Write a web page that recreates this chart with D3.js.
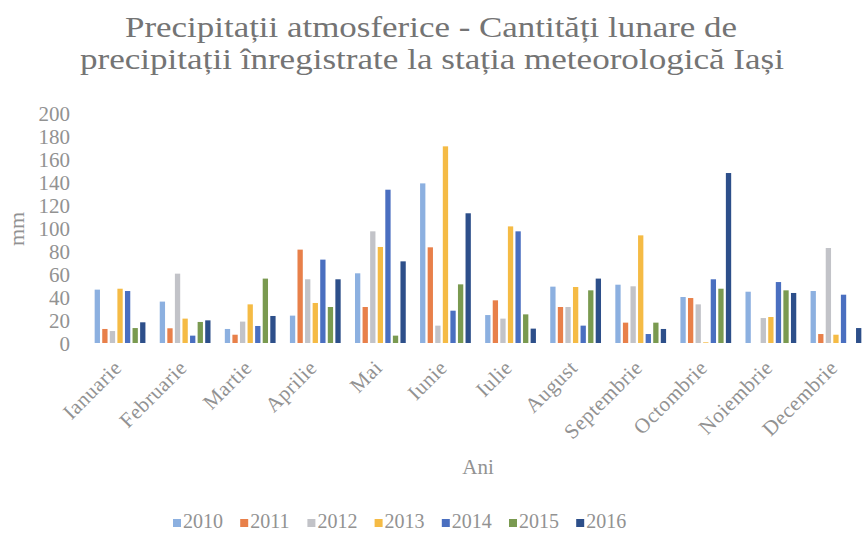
<!DOCTYPE html>
<html><head><meta charset="utf-8">
<script src="https://cdn.jsdelivr.net/npm/d3@7"></script>
<style>body{margin:0;background:#fff}svg{display:block}</style>
</head><body>
<svg id="c" width="862" height="537"></svg>
<script>
const months = ["Ianuarie","Februarie","Martie","Aprilie","Mai","Iunie","Iulie","August","Septembrie","Octombrie","Noiembrie","Decembrie"];
const years = ["2010","2011","2012","2013","2014","2015","2016"];
const colors = ["#8cb0e0","#e8804a","#c2c3c8","#f5bb45","#4a6fc0","#7a9a50","#2d4f8a"];
const v2010 = [46.4, 36, 12.2, 23.8, 60.6, 138.8, 24.3, 49, 50.7, 40, 44.6, 45.2];
const v2011 = [12.2, 12.8, 7.2, 81.2, 31.3, 83.2, 37.1, 31.3, 17.7, 39.1, 0, 7.8];
const v2012 = [10.4, 60.3, 18.6, 55.4, 97.1, 15.1, 21.2, 31.3, 49.3, 33.6, 21.7, 82.6];
const v2013 = [47.2, 21.2, 33.6, 34.8, 83.5, 171, 101.4, 48.7, 93.6, 0.6, 22.6, 7.2];
const v2014 = [45.2, 6.4, 14.8, 72.5, 133.3, 28.1, 97.1, 15.1, 7.8, 55.4, 53, 42];
const v2015 = [13, 18.3, 56, 31.3, 6.4, 51, 24.9, 45.8, 17.7, 47.2, 45.8, 0];
const v2016 = [18, 19.7, 23.5, 55.4, 71, 112.8, 12.5, 56, 12.2, 147.8, 43.5, 13];
const series = [v2010, v2011, v2012, v2013, v2014, v2015, v2016];
const yTicks = [0,20,40,60,80,100,120,140,160,180,200];
const title1 = "Precipitații atmosferice - Cantități lunare de";
const title2 = "precipitații înregistrate la stația meteorologică Iași";

const svg = d3.select("#c");
const font = "'Liberation Serif','Times New Roman',serif";
const gray = "#929292";

const x = d3.scaleBand().domain(months).range([87.5, 868.5]).paddingInner(0.22).paddingOuter(0.11);
const xs = d3.scaleBand().domain(years).range([0, x.bandwidth()]).paddingInner(0.3);
const y = d3.scaleLinear().domain([0, 200]).range([343, 113]);

// title
svg.append("text").attr("x", 431).attr("y", 37).attr("text-anchor","middle")
  .attr("font-family", font).attr("font-size", 30).attr("fill","#747474")
  .attr("textLength", 612).attr("lengthAdjust","spacingAndGlyphs").text(title1);
svg.append("text").attr("x", 432).attr("y", 69).attr("text-anchor","middle")
  .attr("font-family", font).attr("font-size", 30).attr("fill","#747474")
  .attr("textLength", 704).attr("lengthAdjust","spacingAndGlyphs").text(title2);

// y axis
const ya = svg.append("g").attr("transform","translate(70,0)")
  .call(d3.axisLeft(y).tickValues(yTicks).tickSize(0).tickPadding(0));
ya.select(".domain").remove();
ya.selectAll("text").attr("font-family", font).attr("font-size", 21).attr("fill", gray).attr("dy","0.34em");

// bars
const g = svg.append("g");
years.forEach((yr, si) => {
  g.selectAll(null).data(months).enter().append("rect")
    .attr("x", m => x(m) + xs(yr))
    .attr("y", (m, i) => y(series[si][i]))
    .attr("width", xs.bandwidth())
    .attr("height", (m, i) => y(0) - y(series[si][i]))
    .attr("fill", colors[si]);
});

// x axis
const xa = svg.append("g").attr("transform","translate(0,343)")
  .call(d3.axisBottom(x).tickSize(0).tickPadding(0));
xa.select(".domain").remove();
xa.selectAll("text")
  .attr("font-family", font).attr("font-size", 21).attr("fill", gray)
  .attr("letter-spacing", 0.5)
  .attr("text-anchor","end").attr("y", 0).attr("dy", null)
  .attr("transform","translate(3,26) rotate(-45)");

// axis titles
svg.append("text").attr("transform","translate(24,229) rotate(-90)").attr("text-anchor","middle")
  .attr("font-family", font).attr("font-size", 22).attr("fill", gray).text("mm");
svg.append("text").attr("x", 478).attr("y", 474).attr("text-anchor","middle")
  .attr("font-family", font).attr("font-size", 21).attr("fill", gray).text("Ani");

// legend
const leg = svg.append("g");
years.forEach((yr, i) => {
  const lx = 173 + i * 67.2;
  leg.append("rect").attr("x", lx).attr("y", 519).attr("width", 8).attr("height", 8).attr("fill", colors[i]);
  leg.append("text").attr("x", lx + 10).attr("y", 528)
    .attr("font-family", font).attr("font-size", 20).attr("fill", gray).text(yr);
});
</script>
</body></html>
